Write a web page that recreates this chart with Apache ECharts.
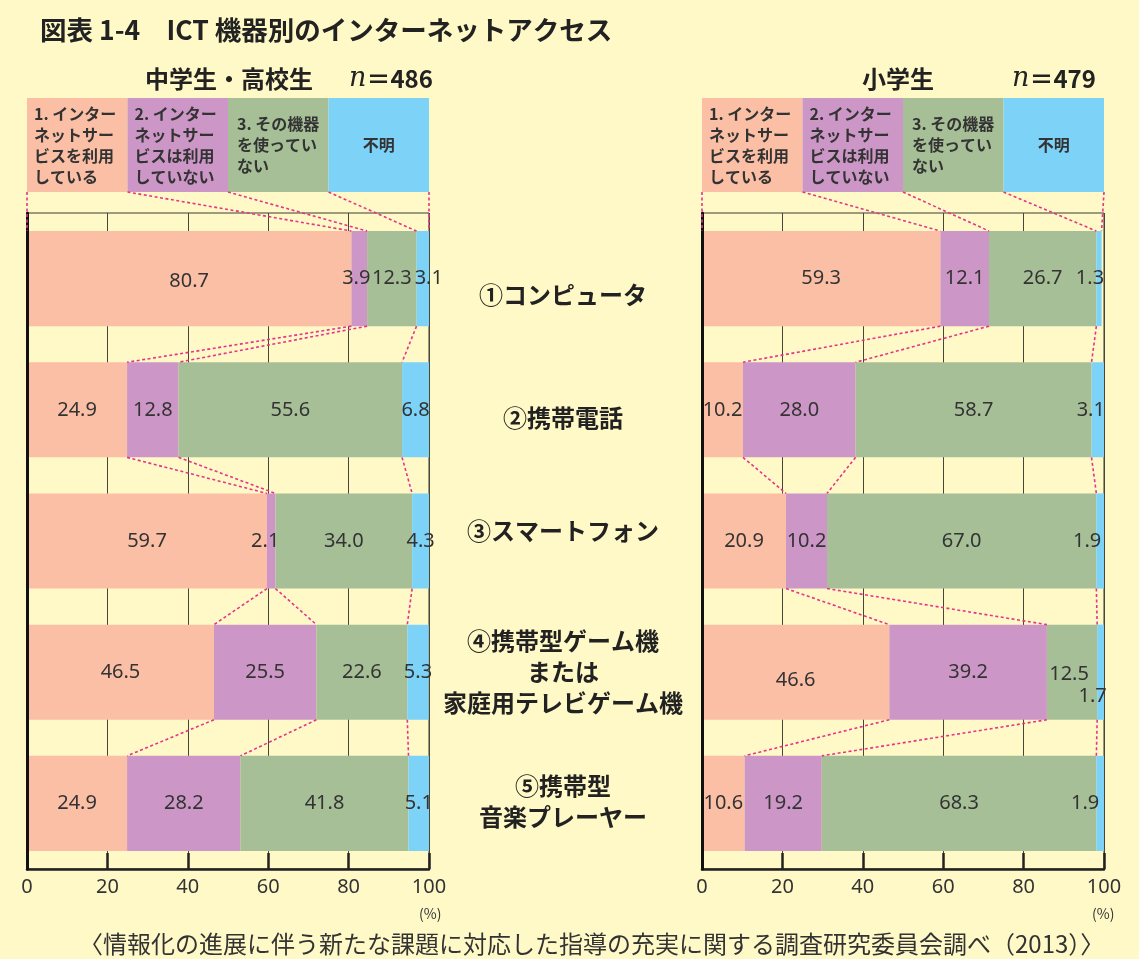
<!DOCTYPE html>
<html><head><meta charset="utf-8">
<script src="https://cdn.jsdelivr.net/npm/echarts@6/dist/echarts.min.js"></script>
<style>html,body{margin:0;padding:0;background:#FFF9C7;}#c{width:1139px;height:959px;}</style>
</head><body><div id="c"></div>
<script>
// ---- data ----
const categories = ['①コンピュータ','②携帯電話','③スマートフォン','④携帯型ゲーム機\nまたは\n家庭用テレビゲーム機','⑤携帯型\n音楽プレーヤー'];
const seriesNames = ['インターネットサービスを利用している','インターネットサービスは利用していない','その機器を使っていない','不明'];
const legendLabels = ['1. インター\nネットサー\nビスを利用\nしている','2. インター\nネットサー\nビスは利用\nしていない','3. その機器\nを使ってい\nない','不明'];
const legendShares = [25,25,25,25];
const xTickValues = [0,20,40,60,80,100];
// 中学生・高校生 n=486
const juniorUsing        = [80.7,24.9,59.7,46.5,24.9];
const juniorNotUsing     = [3.9,12.8,2.1,25.5,28.2];
const juniorNoDevice     = [12.3,55.6,34.0,22.6,41.8];
const juniorUnknown      = [3.1,6.8,4.3,5.3,5.1];
// 小学生 n=479
const elemUsing          = [59.3,10.2,20.9,46.6,10.6];
const elemNotUsing       = [12.1,28.0,10.2,39.2,19.2];
const elemNoDevice       = [26.7,58.7,67.0,12.5,68.3];
const elemUnknown        = [1.3,3.1,1.9,1.7,1.9];

// ---- styling ----
const colors = ['#FBBFA6','#CC96C6','#A6BF96','#7CD3F7'];
const FONT = 'Noto Sans CJK JP';
const HEADER_TOP = 98, HEADER_H = 94, MAIN_TOP = 213, MAIN_BOTTOM = 90;
const BAR_FRAC = 0.725;
const sides = [
  {left:27, width:402, vals:[juniorUsing,juniorNotUsing,juniorNoDevice,juniorUnknown]},
  {left:702, width:402, vals:[elemUsing,elemNotUsing,elemNoDevice,elemUnknown]}
];
// label nudges [side, series, row] -> offset
const labelNudges = [
  [1,3,0,[-9,0]],[1,3,1,[-7,0]],[1,3,2,[-13,0]],[1,3,3,[-8,24]],[1,3,4,[-15,0]],
  [1,2,3,[-3,2]],[1,0,3,[0,8]],[0,0,0,[0,3]],[0,1,0,[-3,0]],[0,1,2,[-6,0]],[0,3,0,[6,0]]
];
// vertical shift of centre category labels (px, + = down)
const catLabelShift = [16, 8, -10, 0, -2];

const catRich = {c:{fontSize:24, fontWeight:'bold', color:'#222', lineHeight:31, fontFamily:FONT, align:'center'}};
catLabelShift.forEach((sh,i)=>{ catRich['sp'+i] = {fontSize:1, lineHeight:Math.max(1, Math.abs(sh)*2)}; });
function catFormatter(val, idx){
  const body = val.split('\n').map(l=>'{c|'+l+'}').join('\n');
  const sh = catLabelShift[idx] || 0;
  if (sh > 0) return '{sp'+idx+'| }\n' + body;
  if (sh < 0) return body + '\n{sp'+idx+'| }';
  return body;
}

const chart = echarts.init(document.getElementById('c'));
const grid = [], xAxis = [], yAxis = [], series = [];
sides.forEach((s, si) => {
  const gH = si*2, gM = si*2+1;
  grid.push({left:s.left, top:HEADER_TOP, width:s.width, height:HEADER_H});
  grid.push({left:s.left, top:MAIN_TOP, width:s.width, bottom:MAIN_BOTTOM, show:true, borderColor:'#3d3d33', borderWidth:1});
  xAxis.push({gridIndex:gH, type:'value', min:0, max:100, show:false});
  xAxis.push({gridIndex:gM, type:'value', min:xTickValues[0], max:xTickValues[xTickValues.length-1],
    interval:xTickValues[1]-xTickValues[0],
    axisLine:{show:true, lineStyle:{color:'#222', width:2.5}},
    axisTick:{show:true, inside:true, length:16, lineStyle:{color:'#222', width:2.5}},
    splitLine:{show:true, lineStyle:{color:'#46463a', width:1}},
    axisLabel:{color:'#333', fontSize:20, margin:8, fontFamily:'Noto Sans'}});
  yAxis.push({gridIndex:gH, type:'category', data:['h'], show:false});
  yAxis.push({gridIndex:gM, type:'category', inverse:true, z:5,
    data: categories,
    axisLine:{show:true, onZero:false, lineStyle:{color:'#111', width:3}},
    axisTick:{show:false}, splitLine:{show:false},
    axisLabel: si===1 ? {show:true, margin:139, align:'center', verticalAlign:'middle', formatter:catFormatter, rich:catRich} : {show:false}});
  // header legend boxes
  legendShares.forEach((v, k) => {
    series.push({type:'bar', name:seriesNames[k], xAxisIndex:gH, yAxisIndex:gH, stack:'H'+si, barWidth:'100%',
      itemStyle:{color:colors[k]}, silent:true,
      label:{show:true, position: k===3 ? 'inside' : 'insideLeft', distance: k===2 ? 9 : 7,
        formatter: legendLabels[k], color:'#333', fontSize:16, fontWeight:'bold', lineHeight:21, fontFamily:FONT, align: k===3?'center':'left'},
      data:[v]});
  });
  // main bars
  s.vals.forEach((arr, k) => {
    series.push({type:'bar', name:seriesNames[k], xAxisIndex:gM, yAxisIndex:gM, stack:'M'+si, barWidth:(BAR_FRAC*100)+'%',
      itemStyle:{color:colors[k]},
      label:{show:true, position:'inside', color:'#333', fontSize:20, fontFamily:'Noto Sans',
        formatter:p=>Number(p.value).toFixed(1)},
      data: arr.map((v,i)=>{
        const n = labelNudges.find(d=>d[0]===si && d[1]===k && d[2]===i);
        return n ? {value:v, label:{offset:n[3]}} : v;
      })});
  });
});

const subRich = {
  a:{fontSize:24, fontWeight:'bold', color:'#222', fontFamily:FONT},
  n:{fontSize:27, fontStyle:'italic', fontWeight:'normal', color:'#222', fontFamily:'DejaVu Serif'},
  b:{fontSize:24, fontWeight:'bold', color:'#222', fontFamily:FONT}
};
const titles = [
  {text:'図表 1-4　ICT 機器別のインターネットアクセス', left:35, top:12, textStyle:{fontSize:26.5, fontWeight:'bold', color:'#222', fontFamily:FONT}},
  {text:'{a|中学生・高校生}{sp|}{n|n}{b|＝486}', left:140, top:60, textStyle:{rich:Object.assign({sp:{width:36}}, subRich)}},
  {text:'{a|小学生}{sp|}{n|n}{b|＝479}', left:857, top:60, textStyle:{rich:Object.assign({sp:{width:78}}, subRich)}},
  {text:'(%)', left:414, top:902, textStyle:{fontSize:14, fontWeight:'normal', color:'#333', fontFamily:FONT}},
  {text:'(%)', left:1087, top:902, textStyle:{fontSize:14, fontWeight:'normal', color:'#333', fontFamily:FONT}},
  {text:'〈情報化の進展に伴う新たな課題に対応した指導の充実に関する調査研究委員会調べ（2013）〉', left:74, top:927,
    textStyle:{fontSize:24, fontWeight:'normal', color:'#333', fontFamily:FONT}}
];

chart.setOption({
  animation:false, backgroundColor:'#FFF9C7',
  title:titles, grid, xAxis, yAxis, series
});

// ---- connector dashed lines computed from the axes ----
const lines = [];
sides.forEach((s, si) => {
  const gH = si*2, gM = si*2+1;
  const xh = v => chart.convertToPixel({xAxisIndex:gH}, v);
  const xm = v => chart.convertToPixel({xAxisIndex:gM}, v);
  const yc = i => chart.convertToPixel({yAxisIndex:gM}, i);
  const band = Math.abs(yc(1) - yc(0));
  const half = band * BAR_FRAC / 2;
  const bounds = categories.map((c,i)=>{ let a=0; return [0, ...s.vals.map(arr=>a+=arr[i])]; });
  let acc = 0; const hb = [0, ...legendShares.map(v=>acc+=v)];
  const headerBottom = HEADER_TOP + HEADER_H;
  const st = {stroke:'#E8338B', lineWidth:1.6, lineDash:[3,2.5]};
  hb.forEach((v,k)=>{
    lines.push({type:'line', silent:true, z:50, shape:{x1:xh(v), y1:headerBottom, x2:xm(Math.min(bounds[0][k],100)), y2:yc(0)-half}, style:st});
  });
  for (let i=0;i<categories.length-1;i++){
    for (let k=1;k<=3;k++){
      lines.push({type:'line', silent:true, z:50, shape:{x1:xm(bounds[i][k]), y1:yc(i)+half, x2:xm(bounds[i+1][k]), y2:yc(i+1)-half}, style:st});
    }
  }
});
chart.setOption({graphic:lines});
</script></body></html>
